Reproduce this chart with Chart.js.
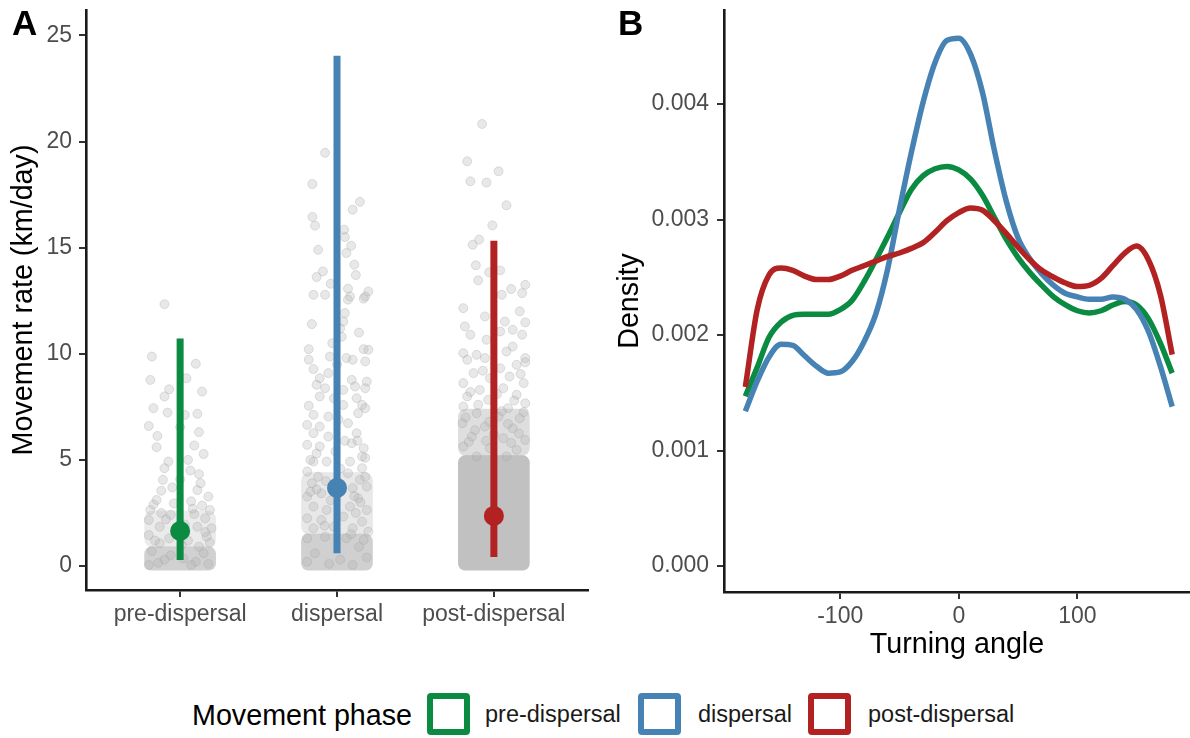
<!DOCTYPE html>
<html>
<head>
<meta charset="utf-8">
<script src="https://cdn.jsdelivr.net/npm/chart.js@4.4.1/dist/chart.umd.min.js"></script>
<style>
  html, body { margin: 0; padding: 0; background: #fff; }
  body { width: 1190px; height: 738px; position: relative; overflow: hidden;
         font-family: 'Liberation Sans', Arial, sans-serif; }
  canvas { position: absolute; top: 0; }
  #chart-a { left: 0; }
  #chart-b { left: 600px; }
  .tag { position: absolute; top: 5px; font-weight: bold; font-size: 35px; line-height: 1; color: #000; }
  .leg { position: absolute; line-height: 1; color: #1a1a1a; white-space: nowrap; }
  .leg-title { left: 192px; top: 701px; font-size: 28.7px; color: #000; }
  .leg-label { top: 703px; font-size: 23.5px; }
  .key { position: absolute; top: 693px; width: 43px; height: 42px; box-sizing: border-box;
         border: 6px solid; border-radius: 4px; }
</style>
</head>
<body>
<canvas id="chart-a" width="600" height="680"></canvas>
<canvas id="chart-b" width="590" height="680"></canvas>
<div class="tag" style="left:12px">A</div>
<div class="tag" style="left:618px">B</div>
<div id="legend"></div>
<script>
// ── Panel A: movement rate per phase ─────────────────────────────────────────
const categories = ['pre-dispersal', 'dispersal', 'post-dispersal'];
const phaseColors = ['#0b8a42', '#4682b4', '#b22222'];
const meanRate = [1.65, 3.68, 2.36];
const lowRate = [0.28, 0.60, 0.42];
const highRate = [10.72, 24.05, 15.33];
const rateTicks = [0, 5, 10, 15, 20, 25];

// jittered observations: [offset from category centre, km/day]
const prePoints = [
  [-0.10, 12.34], [-0.18, 9.87], [0.10, 9.53], [-0.19, 8.77], [0.04, 8.85], [-0.07, 8.33],
  [0.14, 8.22], [-0.10, 7.99], [-0.17, 7.44], [-0.08, 7.23], [0.03, 7.12], [0.11, 7.17],
  [-0.20, 6.60], [-0.145, 6.13], [0.0, 6.54], [0.12, 6.31], [0.09, 5.68], [0.15, 5.28],
  [-0.075, 4.92], [-0.10, 4.61], [0.065, 4.50], [0.12, 4.33], [-0.11, 4.06], [0.0, 4.09],
  [0.11, 3.58], [-0.12, 3.55], [0.18, 3.27], [-0.15, 3.11], [-0.19, 2.64], [-0.06, 2.41],
  [0.19, 2.64], [-0.20, 2.17], [0.16, 2.25], [0.20, 1.78], [-0.13, 1.85], [0.11, 1.85],
  [-0.20, 1.46], [0.17, 1.38], [-0.13, 1.07], [0.12, 0.91], [-0.04, 2.95], [0.07, 3.05],
  [0.14, 2.85], [-0.09, 2.2], [0.03, 1.95], [-0.17, 2.9], [0.09, 2.45], [-0.02, 1.55],
  [0.05, 1.2], [-0.07, 1.3], [0.19, 1.1], [0.15, 0.6], [-0.18, 0.7], [-0.06, 0.5],
  [0.02, 0.35], [0.1, 0.2], [-0.14, 0.15], [0.18, 0.1], [-0.2, 0.05], [0.07, 0.05],
  [-0.1, 0.3], [0.13, 3.9], [-0.05, 3.7], [0.05, 5.0], [-0.15, 5.6], [0.16, 1.6],
  [-0.16, 1.2], [0.08, 2.7], [-0.12, 2.5], [0.01, 1.0]
];
const dispPoints = [
  [-0.076, 19.47], [-0.157, 18.0], [0.146, 17.16], [0.10, 16.79], [-0.157, 16.45], [-0.14, 16.04],
  [0.045, 15.85], [0.05, 15.5], [0.09, 15.09], [0.06, 14.75], [-0.09, 13.88], [-0.13, 13.62],
  [0.12, 13.71], [-0.04, 13.30], [0.07, 13.07], [0.20, 12.94], [-0.15, 12.78], [-0.076, 12.78],
  [0.083, 12.70], [0.18, 12.70], [0.07, 12.55], [0.17, 12.6], [0.05, 11.92], [0.04, 11.52],
  [-0.18, 10.22], [0.17, 10.22], [0.20, 10.19], [-0.045, 9.87], [0.06, 9.80], [0.10, 9.72],
  [0.18, 9.64], [-0.18, 9.72], [-0.15, 9.28], [-0.055, 9.09], [-0.11, 8.85], [-0.076, 8.38],
  [0.094, 8.77], [0.19, 8.69], [0.115, 8.46], [-0.13, 8.54], [0.18, 8.38], [-0.11, 7.99],
  [0.04, 8.30], [0.125, 7.91], [0.16, 7.59], [-0.18, 7.55], [0.04, 7.59], [0.18, 7.44],
  [-0.055, 7.04], [0.135, 7.2], [-0.15, 7.12], [-0.19, 6.65], [-0.11, 6.57], [0.07, 6.73],
  [0.125, 6.26], [-0.15, 6.26], [-0.055, 6.10], [-0.19, 5.71], [-0.11, 5.63], [0.094, 5.79],
  [0.17, 5.55], [0.16, 5.16], [-0.15, 4.92], [-0.066, 4.92], [0.083, 4.92], [0.16, 4.61],
  [-0.19, 4.45], [-0.12, 4.21], [0.07, 4.37], [0.146, 4.06], [-0.16, 3.90], [0.10, 3.67],
  [0.19, 3.74], [-0.19, 3.27], [-0.10, 3.43], [0.135, 3.19], [-0.15, 2.80], [-0.066, 2.64],
  [0.083, 2.80], [0.19, 2.64], [-0.19, 2.25], [-0.10, 2.17], [0.04, 2.33], [0.16, 2.09],
  [-0.15, 1.78], [-0.02, 1.85], [0.10, 1.78], [0.20, 1.62], [-0.19, 1.31], [-0.076, 1.38],
  [0.06, 1.31], [0.17, 1.23], [0.02, 11.2], [0.03, 10.8], [-0.03, 10.5], [0.0, 9.5],
  [-0.02, 7.9], [0.01, 6.9], [-0.01, 5.4], [0.02, 4.6], [0.13, 5.9], [-0.17, 5.0],
  [0.18, 4.2], [-0.04, 3.1], [0.12, 2.5], [-0.13, 3.6], [0.15, 3.0], [-0.08, 1.9],
  [0.09, 1.5], [0.14, 0.9], [-0.14, 0.6], [0.02, 0.3], [-0.19, 0.2], [0.19, 0.4],
  [-0.05, 0.1], [0.1, 0.05], [0.11, 14.2], [-0.12, 14.9], [0.14, 11.0], [-0.16, 11.4],
  [-0.17, 3.5], [0.11, 3.3], [-0.07, 4.0], [0.18, 5.1], [-0.13, 5.3], [0.05, 5.9]
];
const postPoints = [
  [-0.075, 20.83], [-0.17, 19.07], [0.03, 18.60], [-0.15, 18.13], [-0.047, 18.07], [0.08, 17.0],
  [-0.01, 16.05], [-0.094, 15.38], [-0.135, 15.14], [-0.115, 14.17], [0.04, 13.93], [-0.03, 13.84],
  [-0.10, 13.46], [0.11, 13.05], [0.20, 13.25], [0.18, 12.86], [0.05, 12.78], [-0.195, 12.15],
  [0.165, 12.0], [-0.057, 11.76], [0.07, 11.52], [0.20, 11.48], [-0.185, 11.29], [0.12, 11.13],
  [-0.15, 10.9], [0.04, 11.05], [0.18, 10.9], [-0.047, 10.66], [0.12, 10.34], [-0.195, 10.03],
  [-0.11, 9.95], [0.08, 10.11], [0.20, 9.80], [-0.17, 9.72], [-0.057, 9.80], [0.04, 9.32],
  [0.145, 9.48], [0.2, 9.6], [-0.13, 9.09], [-0.025, 8.85], [0.10, 8.93], [-0.195, 8.62],
  [0.19, 8.62], [-0.09, 8.30], [0.06, 8.38], [-0.17, 7.99], [0.145, 8.07], [-0.036, 7.83],
  [0.2, 7.67], [-0.195, 7.51], [0.09, 7.44], [-0.11, 7.20], [0.03, 7.04], [0.165, 6.96],
  [-0.2, 6.73], [-0.057, 6.57], [0.12, 6.49], [-0.14, 6.10], [0.06, 6.02], [0.2, 5.94],
  [-0.195, 5.63], [-0.025, 5.55], [0.145, 5.47], [-0.11, 5.16], [0.08, 5.16], [-0.07, 9.2],
  [0.17, 9.05], [-0.15, 8.2], [0.02, 8.1], [0.13, 7.8], [-0.1, 7.6], [0.05, 7.3],
  [-0.18, 7.0], [0.19, 7.25], [-0.03, 6.8], [0.09, 6.7], [-0.12, 6.4], [0.16, 6.25],
  [0.0, 6.2], [-0.16, 5.85], [0.11, 5.8], [-0.05, 5.9]
];
// where the circles merge into a solid mass: [low, high] km/day per phase
const coreBand = [[-0.2, 0.9], [-0.2, 1.5], [-0.2, 5.2]];
const denseBand = [[0.9, 2.6], [1.5, 4.4], [5.2, 7.4]];

// ── Panel B: turning angle densities ─────────────────────────────────────────
const angles = [-180, -170, -160, -150, -140, -130, -120, -110, -100, -90, -80, -70, -60, -50,
  -40, -30, -20, -10, 0, 10, 20, 30, 40, 50, 60, 70, 80, 90, 100, 110, 120, 130, 140, 150,
  160, 170, 180];
const densPre = [0.00147, 0.00172, 0.00198, 0.00211, 0.00217, 0.00218, 0.00218, 0.00218,
  0.00222, 0.00230, 0.00246, 0.00265, 0.00285, 0.00306, 0.00326, 0.00338, 0.00344, 0.00346,
  0.00343, 0.00335, 0.00321, 0.00302, 0.00283, 0.00267, 0.00254, 0.00243, 0.00233, 0.00226,
  0.00221, 0.00219, 0.00221, 0.00226, 0.00229, 0.00226, 0.00214, 0.00193, 0.00167];
const densDisp = [0.00134, 0.00160, 0.00181, 0.00192, 0.00191, 0.00182, 0.00173, 0.00167,
  0.00168, 0.00177, 0.00194, 0.00218, 0.00257, 0.00309, 0.00358, 0.00402, 0.00436, 0.00455,
  0.00457, 0.00443, 0.00410, 0.00360, 0.00316, 0.00284, 0.00266, 0.00253, 0.00243, 0.00236,
  0.00233, 0.00231, 0.00231, 0.00233, 0.00231, 0.00222, 0.00203, 0.00173, 0.00138];
const densPost = [0.00155, 0.00222, 0.00252, 0.00258, 0.00256, 0.00251, 0.00248, 0.00248,
  0.00251, 0.00256, 0.00260, 0.00264, 0.00268, 0.00271, 0.00275, 0.00280, 0.00289, 0.00299,
  0.00306, 0.00310, 0.00308, 0.00299, 0.00288, 0.00276, 0.00265, 0.00256, 0.00250, 0.00245,
  0.00242, 0.00243, 0.00249, 0.00260, 0.00271, 0.00277, 0.00265, 0.00235, 0.00183];
const densityTicks = [0, 0.001, 0.002, 0.003, 0.004];
const angleTicks = [-100, 0, 100];

// ── Shared look (ggplot theme_classic) ───────────────────────────────────────
const FONT = "'Liberation Sans', Arial, sans-serif";
const tickFont = { family: FONT, size: 23 };
const titleFont = { family: FONT, size: 28.7 };
const TICK_COL = '#4d4d4d';
const axisBorder = { display: true, color: '#1a1a1a', width: 2.6 };
const axisGrid = { drawOnChartArea: false, drawTicks: true, tickLength: 7, color: '#333', lineWidth: 2 };

// fixed axis boxes so the plot area lands where the reference has it
const fixY = w => s => { s.width = w; s.paddingTop = 0; s.paddingBottom = 0; };
const fixX = h => s => { s.height = h; s.paddingLeft = 0; s.paddingRight = 0; };

const pointsStyle = {
  type: 'scatter', pointRadius: 4.5, pointBorderWidth: 1,
  pointBackgroundColor: 'rgba(179,179,179,0.3)', pointBorderColor: 'rgba(160,160,160,0.3)', order: 2
};
const jitter = (pts, cat) => pts.map(([dx, y]) => ({ x: cat + dx, y }));
const bandData = bands => bands.map((b, i) => ({ x: i + 1, y: b }));

new Chart(document.getElementById('chart-a'), {
  type: 'scatter',
  data: {
    datasets: [
      { type: 'scatter', data: meanRate.map((m, i) => ({ x: i + 1, y: m })), pointRadius: 10,
        pointBorderWidth: 0, pointBackgroundColor: phaseColors, order: 0 },
      ...categories.map((c, i) => ({
        type: 'line', showLine: true, data: [{ x: i + 1, y: lowRate[i] }, { x: i + 1, y: highRate[i] }],
        borderColor: phaseColors[i], borderWidth: 7, pointRadius: 0, order: 1
      })),
      { ...pointsStyle, data: jitter(prePoints, 1) },
      { ...pointsStyle, data: jitter(dispPoints, 2) },
      { ...pointsStyle, data: jitter(postPoints, 3) },
      { type: 'bar', data: bandData(denseBand), grouped: false, barThickness: 71, borderRadius: 8,
        borderSkipped: false, order: 3,
        backgroundColor: ['rgba(190,190,190,0.3)', 'rgba(190,190,190,0.35)', 'rgba(190,190,190,0.5)'] },
      { type: 'bar', data: bandData(coreBand), grouped: false, barThickness: 71, borderRadius: 7,
        borderSkipped: false, order: 4,
        backgroundColor: ['rgba(190,190,190,0.7)', 'rgba(190,190,190,0.72)', 'rgba(190,190,190,0.95)'] }
    ]
  },
  options: {
    responsive: false, animation: false, devicePixelRatio: 1, events: [],
    layout: { padding: { top: 10, right: 12, left: 0, bottom: 0 } },
    plugins: { legend: { display: false }, tooltip: { enabled: false } },
    scales: {
      x: {
        type: 'linear', min: 0.4, max: 3.6, offset: false,
        grid: { ...axisGrid, offset: false }, border: axisBorder,
        afterBuildTicks: s => { s.ticks = categories.map((c, i) => ({ value: i + 1 })); },
        afterFit: fixX(90),
        ticks: { font: tickFont, color: TICK_COL, padding: 4, maxRotation: 0,
                 callback: v => categories[v - 1] }
      },
      y: {
        type: 'linear', min: -1.13, max: 26.2,
        grid: axisGrid, border: axisBorder,
        afterBuildTicks: s => { s.ticks = rateTicks.map(v => ({ value: v })); },
        afterFit: fixY(86),
        ticks: { font: tickFont, color: TICK_COL, padding: 7 },
        title: { display: true, text: 'Movement rate (km/day)', font: titleFont, color: '#000',
                 padding: { top: 7, bottom: 0 } }
      }
    }
  }
});

const densitySeries = [densPre, densDisp, densPost];
new Chart(document.getElementById('chart-b'), {
  type: 'line',
  data: {
    datasets: densitySeries.map((d, i) => ({
      data: angles.map((a, j) => ({ x: a, y: d[j] })),
      borderColor: phaseColors[i], borderWidth: 5.5, pointRadius: 0, fill: false,
      cubicInterpolationMode: 'monotone', order: 2 - i
    }))
  },
  options: {
    responsive: false, animation: false, devicePixelRatio: 1, events: [],
    layout: { padding: { top: 10, right: 0, left: 0, bottom: 0 } },
    plugins: { legend: { display: false }, tooltip: { enabled: false } },
    scales: {
      x: {
        type: 'linear', min: -198, max: 195,
        grid: axisGrid, border: axisBorder,
        afterBuildTicks: s => { s.ticks = angleTicks.map(v => ({ value: v })); },
        afterFit: fixX(88),
        ticks: { font: tickFont, color: TICK_COL, padding: 4, maxRotation: 0 },
        title: { display: true, text: 'Turning angle', font: titleFont, color: '#000',
                 padding: { top: 0, bottom: 18 } }
      },
      y: {
        type: 'linear', min: -0.000225, max: 0.004814,
        grid: axisGrid, border: axisBorder,
        afterBuildTicks: s => { s.ticks = densityTicks.map(v => ({ value: v })); },
        afterFit: fixY(124),
        ticks: { font: tickFont, color: TICK_COL, padding: 8, callback: v => v.toFixed(3) },
        title: { display: true, text: 'Density', font: titleFont, color: '#000',
                 padding: { top: 13, bottom: 0 } }
      }
    }
  }
});

// ── Legend (shared, below both panels) ───────────────────────────────────────
const keyLeft = [427, 638, 808];
const labelLeft = [485, 698, 868];
const legend = document.getElementById('legend');
legend.innerHTML = '<div class="leg leg-title">Movement phase</div>' +
  categories.map((c, i) =>
    `<div class="key" style="left:${keyLeft[i]}px;border-color:${phaseColors[i]}"></div>` +
    `<div class="leg leg-label" style="left:${labelLeft[i]}px">${c}</div>`
  ).join('');
</script>
</body>
</html>
